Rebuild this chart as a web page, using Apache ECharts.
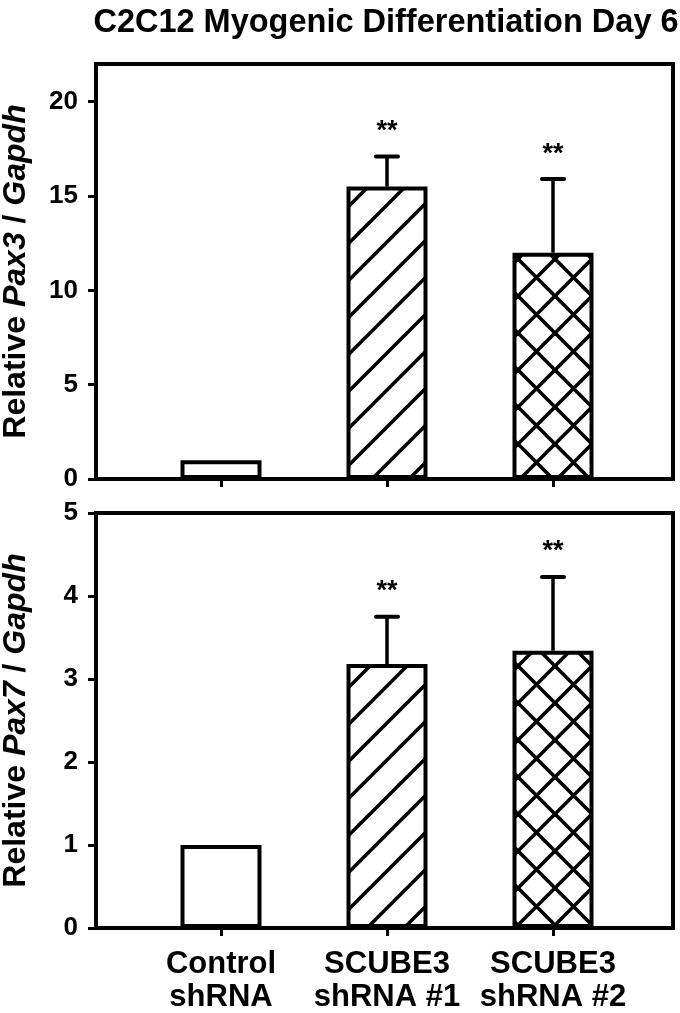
<!DOCTYPE html>
<html>
<head>
<meta charset="utf-8">
<script src="https://cdn.jsdelivr.net/npm/echarts@6/dist/echarts.min.js"></script>
<style>
  html, body { margin: 0; padding: 0; background: #fff; }
  #chart { width: 680px; height: 1013px; }
</style>
</head>
<body>
<div id="chart"></div>
<script>
// ---- data ----
const categories = ['Control\nshRNA', 'SCUBE3\nshRNA #1', 'SCUBE3\nshRNA #2'];
const pax3Mean = [1.0, 15.5, 12.0];
const pax3Upper = [1.0, 17.1, 15.9];
const pax7Mean = [1.0, 3.18, 3.34];
const pax7Upper = [1.0, 3.75, 4.23];
const significance = ['', '**', '**'];
const pax3Ticks = [0, 5, 10, 15, 20];
const pax7Ticks = [0, 1, 2, 3, 4, 5];
const title = 'C2C12 Myogenic Differentiation Day 6';

// ---- styles ----
const FONT = "'Liberation Sans', Arial, sans-serif";

function makePattern(cross) {
  const P = 37;
  const c = document.createElement('canvas');
  c.width = P; c.height = P;
  const g = c.getContext('2d');
  g.fillStyle = '#fff';
  g.fillRect(0, 0, P, P);
  g.strokeStyle = '#000';
  g.lineWidth = 3.6;
  [-P, 0, P].forEach(function (k) {
    const cc = P + k;
    g.beginPath(); g.moveTo(-P, cc + P); g.lineTo(cc + P, -P); g.stroke();
    if (cross) {
      g.beginPath(); g.moveTo(-P, -P - k); g.lineTo(2 * P, 2 * P - k); g.stroke();
    }
  });
  return c;
}
const fills = ['#fff', { image: makePattern(false), repeat: 'repeat' }, { image: makePattern(true), repeat: 'repeat' }];

const panels = [
  { mean: pax3Mean, upper: pax3Upper, ticks: pax3Ticks, max: 22, gene: 'Pax3', top: 64, height: 415, showLabels: false },
  { mean: pax7Mean, upper: pax7Upper, ticks: pax7Ticks, max: 5, gene: 'Pax7', top: 513, height: 415, showLabels: true }
];

const grid = [], xAxis = [], yAxis = [], series = [];
panels.forEach(function (p, i) {
  const fg = grid.length;
  grid.push({ left: 96, width: 577, top: p.top, height: p.height, show: true, outerBoundsMode: 'none',
              containLabel: false, borderColor: '#000', borderWidth: 4, backgroundColor: 'transparent' });
  const bg = grid.length;
  grid.push({ left: 138, width: 498, top: p.top, height: p.height, outerBoundsMode: 'none', containLabel: false });
  xAxis.push({ type: 'category', gridIndex: fg, data: categories, show: false });
  xAxis.push({ type: 'category', gridIndex: bg, data: categories,
    axisLine: { show: false },
    axisTick: { show: true, alignWithLabel: true, length: 8, lineStyle: { color: '#000', width: 3 } },
    axisLabel: { show: p.showLabels, color: '#000', fontFamily: FONT, fontWeight: 'bold', fontSize: 31,
                 lineHeight: 33, margin: 20, interval: 0 }
  });
  yAxis.push({ type: 'value', gridIndex: fg, min: 0, max: p.max,
    name: 'Relative {i|' + p.gene + '} / {i|Gapdh}', nameLocation: 'middle', nameGap: 64,
    nameTextStyle: { color: '#000', fontFamily: FONT, fontWeight: 'bold', fontSize: 32,
      rich: { i: { fontStyle: 'italic', fontFamily: FONT, fontWeight: 'bold', fontSize: 32, color: '#000' } } },
    splitLine: { show: false }, axisLine: { show: false },
    axisTick: { show: true, length: 8, customValues: p.ticks, lineStyle: { color: '#000', width: 3 } },
    axisLabel: { customValues: p.ticks, color: '#000', fontFamily: FONT, fontWeight: 'bold', fontSize: 26, margin: 18 }
  });
  yAxis.push({ type: 'value', gridIndex: bg, min: 0, max: p.max, show: false, splitLine: { show: false } });

  const yIdx = yAxis.length - 1, xIdx = xAxis.length - 1;
  series.push({ type: 'bar', xAxisIndex: xIdx, yAxisIndex: yIdx, barWidth: 81,
    data: p.mean.map(function (v, j) {
      return { value: v, itemStyle: { color: fills[j], borderColor: '#000', borderWidth: 4 } };
    }),
    silent: true, animation: false
  });
  series.push({ type: 'custom', xAxisIndex: xIdx, yAxisIndex: yIdx, z: 5, animation: false, silent: true,
    data: p.mean.map(function (v, j) { return [j, v, p.upper[j], significance[j]]; }),
    renderItem: function (params, api) {
      const j = api.value(0);
      const base = api.coord([j, api.value(1)]);
      const topPt = api.coord([j, api.value(2)]);
      const sig = significance[params.dataIndex];
      const children = [];
      if (api.value(2) > api.value(1)) {
        children.push({ type: 'line', shape: { x1: base[0], y1: base[1], x2: topPt[0], y2: topPt[1] },
                        style: { stroke: '#000', lineWidth: 3.5 } });
        children.push({ type: 'line', shape: { x1: topPt[0] - 11, y1: topPt[1], x2: topPt[0] + 11, y2: topPt[1] },
                        style: { stroke: '#000', lineWidth: 4, lineCap: 'round' } });
      }
      if (sig) {
        children.push({ type: 'text', x: topPt[0], y: topPt[1] - 25,
          style: { text: sig, fill: '#000', font: 'bold 27px ' + FONT, align: 'center', verticalAlign: 'middle' } });
      }
      return { type: 'group', children: children };
    }
  });
});

const chart = echarts.init(document.getElementById('chart'), null, { renderer: 'canvas' });
chart.setOption({
  animation: false,
  backgroundColor: '#fff',
  title: { text: title, left: 381, top: 2, textAlign: 'center',
           textStyle: { color: '#000', fontFamily: FONT, fontWeight: 'bold', fontSize: 32.5 } },
  grid: grid, xAxis: xAxis, yAxis: yAxis, series: series
});
</script>
</body>
</html>
